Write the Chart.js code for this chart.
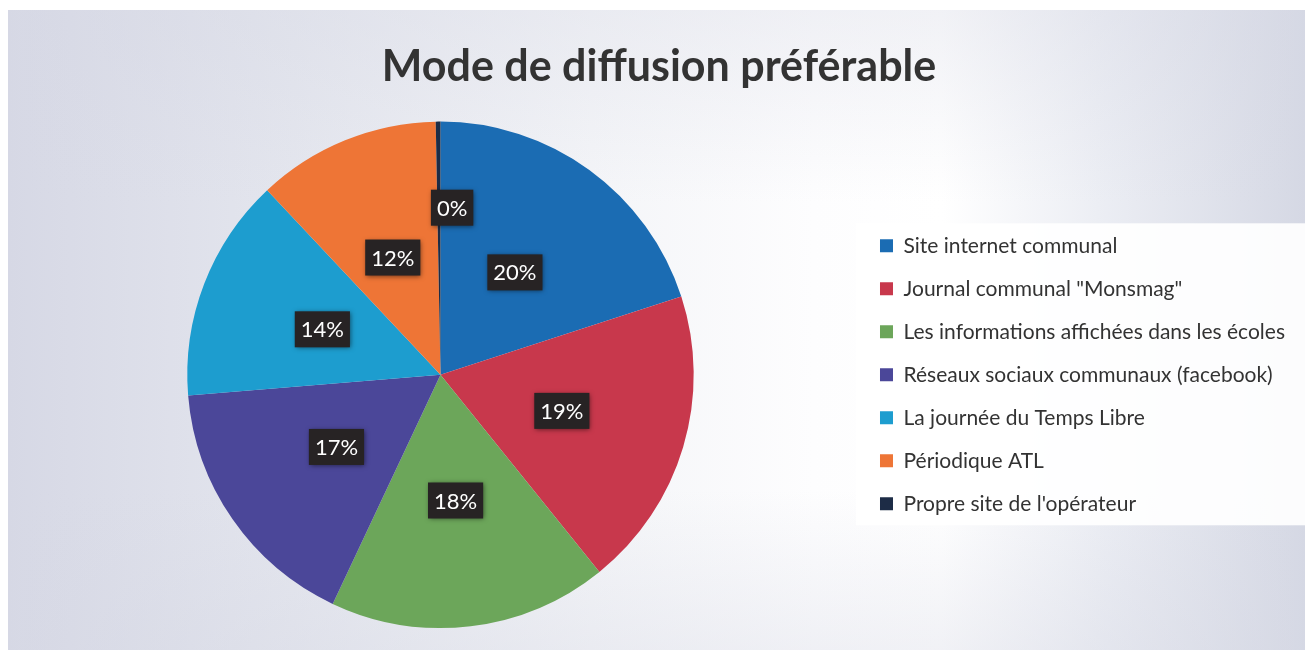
<!DOCTYPE html>
<html>
<head>
<meta charset="utf-8">
<script src="https://cdn.jsdelivr.net/npm/chart.js@4"></script>
<style>
  html, body { margin: 0; padding: 0; background: #ffffff; }
  #wrap { position: relative; width: 1305px; height: 650px; overflow: hidden; }
  #paper {
    position: absolute; left: 8px; top: 10px; right: 0; bottom: 0;
    background:
      linear-gradient(to bottom, rgba(214,216,228,0.35) 0%, rgba(255,255,255,0) 30%, rgba(255,255,255,0) 75%, rgba(214,216,228,0.35) 100%),
      linear-gradient(to right, #d6d8e5 0%, #e4e6ee 22%, #f4f5f8 45%, #fdfdfe 62%, #ffffff 72%, #eceef4 84%, #d5d8e4 100%);
  }
  #myChart { position: absolute; left: 0; top: 0; }
</style>
</head>
<body>
<div id="wrap">
  <div id="paper"></div>
  <canvas id="myChart" width="1305" height="650"></canvas>
</div>
<script>
var labels = ['Site internet communal', 'Journal communal "Monsmag"', 'Les informations affichées dans les écoles',
              'Réseaux sociaux communaux (facebook)', 'La journée du Temps Libre', 'Périodique ATL',
              "Propre site de l'opérateur"];
var values = [20.0, 19.2, 17.8, 16.7, 14.3, 11.7, 0.3];
var colors = ['#1b6cb3', '#c8384c', '#6ca65a', '#4b4799', '#1d9dcf', '#ee7536', '#1d2c46'];

function pctText(v)
{
    var total = values.reduce(function (a, b) { return a + b; }, 0);
    return Math.round(v / total * 100) + '%';
}

// white panel behind the legend
var legendPanel = {
    id: 'legendPanel',
    beforeDraw: function (chart) {
        var lg = chart.legend;
        if (!lg || !lg.legendHitBoxes.length) return;
        var boxes = lg.legendHitBoxes;
        var ctx = chart.ctx;
        var top = boxes[0].top - 12;
        var bottom = boxes[boxes.length - 1].top + boxes[boxes.length - 1].height + 11;
        ctx.save();
        ctx.fillStyle = 'rgba(255,255,255,0.92)';
        ctx.fillRect(lg.left - 2, top, chart.width - lg.left + 2, bottom - top);
        ctx.restore();
    }
};

// dark boxes with the percentage of each slice
var sliceLabels = {
    id: 'sliceLabels',
    afterDatasetsDraw: function (chart) {
        var ctx = chart.ctx;
        var meta = chart.getDatasetMeta(0);
        ctx.save();
        ctx.font = '22px Lato';
        ctx.textAlign = 'center';
        ctx.textBaseline = 'middle';
        meta.data.forEach(function (arc, i) {
            var txt = pctText(values[i]);
            var w = ctx.measureText(txt).width + 12;
            var h = 36;
            var pos = arc.tooltipPosition();
            var x = pos.x, y = pos.y;
            if (values[i] < 1) {
                // tiny slice: push the label outwards and to the right of the edge
                var props = arc.getProps(['x', 'y', 'startAngle', 'endAngle', 'outerRadius']);
                var mid = (props.startAngle + props.endAngle) / 2;
                var r = props.outerRadius * 0.66;
                x = props.x + Math.cos(mid) * r + w / 2 - 8;
                y = props.y + Math.sin(mid) * r;
            }
            ctx.shadowColor = 'rgba(0,0,0,0.55)';
            ctx.shadowBlur = 5;
            ctx.shadowOffsetX = 1;
            ctx.shadowOffsetY = 1;
            ctx.fillStyle = '#272324';
            ctx.fillRect(x - w / 2, y - h / 2, w, h);
            ctx.shadowColor = 'transparent';
            ctx.fillStyle = '#ffffff';
            ctx.fillText(txt, x, y + 1);
        });
        ctx.restore();
    }
};

var ctx = document.getElementById('myChart').getContext('2d');
var chart = new Chart(ctx, {
    type: 'pie',
    data: {
        labels: labels,
        datasets: [{
            data: values,
            backgroundColor: colors,
            borderWidth: 0
        }]
    },
    options: {
        responsive: false,
        animation: false,
        layout: { padding: { top: 0, left: 23, right: 10, bottom: 22 } },
        plugins: {
            title: {
                display: true,
                text: 'Mode de diffusion préférable',
                color: '#333333',
                font: { family: 'Lato', size: 43, weight: 'bold', lineHeight: 1.2 },
                padding: { top: 41, bottom: 29 }
            },
            legend: {
                position: 'right',
                fullSize: false,
                labels: {
                    color: '#333333',
                    font: { family: 'Lato', size: 21 },
                    boxWidth: 13,
                    boxHeight: 13,
                    padding: 22
                }
            },
            tooltip: { enabled: false }
        }
    },
    plugins: [legendPanel, sliceLabels]
});
</script>
</body>
</html>
